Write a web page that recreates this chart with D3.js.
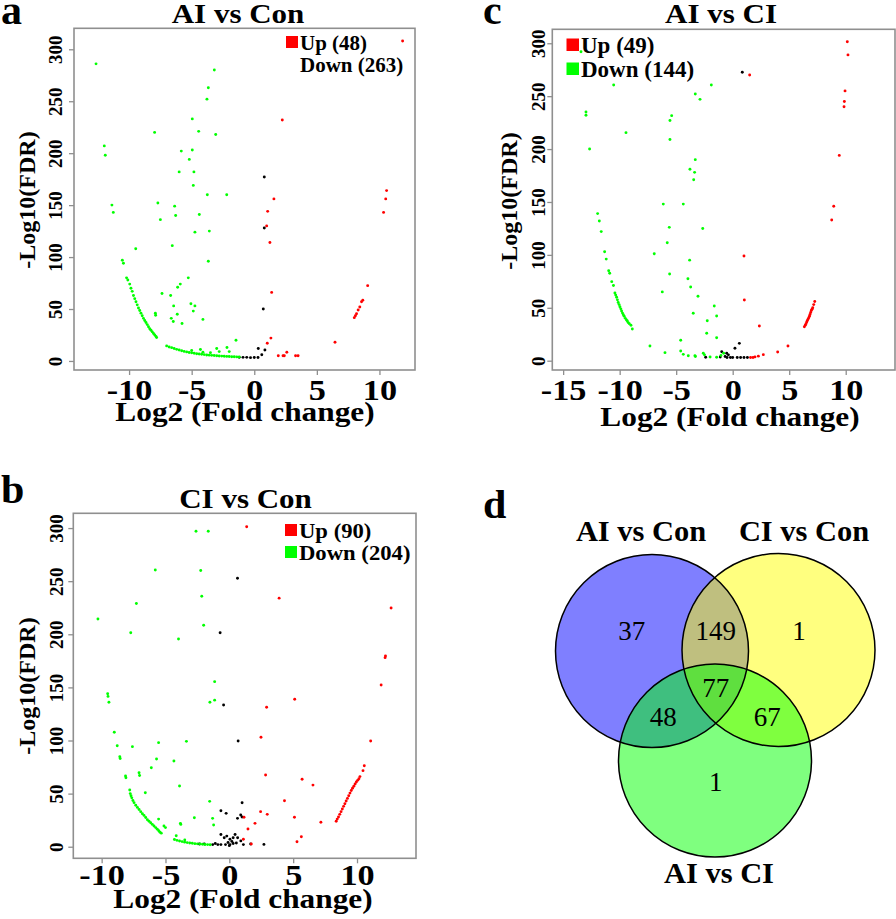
<!DOCTYPE html>
<html><head><meta charset="utf-8">
<script src="https://cdn.jsdelivr.net/npm/d3@7"></script>
<style>html,body{margin:0;padding:0;background:#fff;}svg{display:block;}</style>
</head><body>
<svg id="chart" width="896" height="919"></svg>
<script>
// ---------- data ----------
const panelTitles = ["AI vs Con", "CI vs Con", "AI vs CI"];
const panelLetters = ["a", "b", "c", "d"];
const xTitle = "Log2 (Fold change)";
const yTitle = "-Log10(FDR)";
const yTicks = [0, 50, 100, 150, 200, 250, 300];
const xTicksA = [-10, -5, 0, 5, 10];
const xTicksB = [-10, -5, 0, 5, 10];
const xTicksC = [-15, -10, -5, 0, 5, 10];
const legendA = ["Up (48)", "Down (263)"];
const legendB = ["Up (90)", "Down (204)"];
const legendC = ["Up (49)", "Down (144)"];

const aGreen = [[-12.64,286],[-11.98,207],[-11.9,198],[-11.37,150],[-11.26,143],[-7.96,220],[-7.7,152],[-7.5,136],[-6.36,149],[-6.28,140],[-6.0,182],[-5.83,202],[-5.19,194],[-4.95,233],[-4.95,203],[-4.87,169],[-4.82,182],[-4.44,221],[-4.39,141],[-3.78,252],[-3.75,160],[-3.67,263],[-3.19,280],[-3.08,218],[-2.2,160],
[-4.74,124],[-3.59,125],[-6.55,111],[-9.47,108],[-3.67,96],[-5.27,80],[-5.91,74],[-6.12,71],[-7.37,65],[-6.68,63],[-6.44,53],[-5.06,55],[-4.74,53],[-4.87,48],[-6.15,45],[-7.9,46],[-7.88,44],[-6.63,41],[-6.47,38],[-5.77,36],[-4.1,40],[-1.46,20],[-2.18,13],[-3.0,12],[-4.3,11],[-5.0,10],[-4.1,8.5],[-2.8,9],[-2.0,9],[-3.5,8],
[-10.54,97],[-10.45,94],[-10.2,80],[-10.1,78],[-9.95,74],[-9.85,70],[-9.75,67],[-9.65,63],[-9.55,60],[-9.45,57],[-9.35,54],[-9.25,51],[-9.15,48.5],[-9.05,46],[-8.95,43.5],[-8.85,41],[-8.75,39],[-8.65,37],[-8.55,35],[-8.45,33],[-8.35,31],[-8.25,29.5],[-8.15,28],[-8.05,26.5],[-7.95,25],[-7.85,23.5],[-7.8,22.5],
[-7.0,14.5],[-6.8,13.5],[-6.6,12.8],[-6.4,12],[-6.2,11.2],[-6.0,10.5],[-5.8,9.8],[-5.6,9.2],[-5.4,8.7],[-5.2,8.2],[-5.0,7.8],[-4.8,7.4],[-4.6,7],[-4.4,6.7],[-4.2,6.4],[-4.0,6.1],[-3.8,5.8],[-3.6,5.6],[-3.4,5.4],[-3.2,5.2],[-3.0,5],[-2.8,4.8],[-2.6,4.7],[-2.4,4.5],[-2.2,4.4],[-2.0,4.3],[-1.8,4.1],[-1.6,4],[-1.4,3.9],[-1.2,3.8]];
const aBlack = [[0.8,177],[0.8,128],[0.72,50],[0.32,12],[0.85,10.5],[0.6,6],[-0.9,3.5],[-0.6,3.5],[-0.3,3.2],[0,3.3],[-1.2,3.5],[0.3,3.3]];
const aRed = [[0.99,130],[1.25,114],[1.39,66],[1.33,22],[1.04,17],[1.92,5],[2.3,5],[2.4,5],[2.6,8.4],[3.3,5],[3.5,5],[6.45,18],[9.06,72.5],[7.99,41.7],[8.08,43.5],[8.17,45.5],[8.3,49],[8.43,52],[8.57,57],[8.67,58.5],[1.57,156],[1.07,144],[2.24,232],[10.57,164],[10.5,156],[10.33,143],[11.85,308]];

const bGreen = [[-2.61,297],[-1.65,297],[-5.8,260.5],[-2.24,260],[-7.28,229],[-10.29,214.4],[-7.72,201.5],[-2.16,235.8],[-2.01,208.5],[-3.98,195.6],[-1.15,155.4],[-9.53,144],[-9.5,141.5],[-9.43,136],
[-9.01,107.7],[-8.78,95.1],[-8.58,84.7],[-8.55,83],[-8.13,66.6],[-8.1,65],[-7.59,94.2],[-7.07,69.7],[-7.03,67],[-6.11,74.4],[-5.7,82.6],[-5.54,98],[-6.58,50.8],[-4.34,80.7],[-3.36,99.2],[-3.9,57.2],[-1.52,136],[-1.15,138],[-1.54,42.7],[-2.74,27.3],[-1.31,26.7],[-1.23,20.4],[-5.54,26],[-5.12,19.5],[-5.0,18],[-3.83,22],[-3.8,21],[-4.16,10.4],[-3.49,6.3],
[-7.8,53.4],[-7.76,50],[-7.7,48],[-7.64,46],[-7.55,43.5],[-7.46,41.5],[-7.33,39],[-7.2,37],[-7.07,35],[-6.94,33],[-6.81,31],[-6.68,29.5],[-6.55,27.5],[-6.42,25.5],[-6.29,24],[-6.16,22.5],[-6.03,21],[-5.9,19.5],[-5.77,18],[-5.64,16.5],[-5.53,15],[-5.43,13.7],[-5.33,12.8],
[-4.3,6.8],[-4.1,6],[-3.9,5.4],[-3.7,4.8],[-3.5,4.3],[-3.3,3.9],[-3.1,3.5],[-2.9,3.2],[-2.7,2.9],[-2.5,2.7],[-2.3,2.5],[-2.1,2.3],[-1.9,2.1],[-1.7,2.0],[-1.5,1.9]];
const bBlack = [[0.64,252.7],[-0.72,201.5],[-0.45,133.4],[0.69,99.5],[1.0,41.4],[-0.66,33.9],[-0.25,31.4],[0.64,26.7],[0.89,29.8],[1.0,28],[-0.66,11.5],[-0.4,8.5],[-0.2,10],[0.05,7],[0.3,8.5],[0.45,11.5],[0.65,8.5],[0.9,5.5],[1.1,2],[-0.66,2],[-0.3,2],[0.05,2],[0.3,3],[0.55,3.5],[-0.9,2],[-1.1,3],[-1.3,2],[-2.35,2.5],[-1.96,2.5],[2.71,2.2],[1.67,2.5],[0,1],[-0.1,4],[0.2,5]];
const bRed = [[1.36,301.3],[3.9,234],[12.67,224.8],[12.23,179.6],[12.2,178],[11.89,152.3],[5.12,138.8],[2.92,131.3],[2.48,103],[2.84,67.5],[5.7,63.5],[6.55,58],[4.32,43.3],[2.45,33],[2.97,30.5],[1.15,27.7],[5.1,27.7],[2.01,22],[1.46,16.7],[7.17,23],[5.64,9.4],[5.3,4.7],[1.72,2.5],[1.1,7],[11.07,99.5],[10.57,76.3],[10.47,71.6],
[8.37,24],[8.45,26],[8.55,28],[8.65,30.5],[8.75,33],[8.85,35.5],[8.95,38],[9.05,40.5],[9.15,43],[9.25,45.5],[9.35,48],[9.45,50.5],[9.55,53],[9.65,55],[9.75,57],[9.85,59],[9.95,61],[10.05,62.5],[10.15,64],[10.23,66]];

const cGreen = [[-13.42,292],[-12.98,235],[-12.98,232],[-12.66,200],[-10.53,260.6],[-9.44,215.5],[-11.95,139],[-11.8,132],[-6.14,148],[-5.61,126],[-5.55,227],[-5.4,231.6],[-5.55,209],[-4.37,148],[-3.31,252],[-2.89,247],[-3.31,190],[-3.78,181],[-3.37,178],[-3.45,171],[-2.65,125],[-1.89,260.6],
[-11.63,122],[-11.33,103],[-11.19,96],[-10.97,85],[-10.88,82.6],[-10.7,74.7],[-10.55,71],[-10.42,64],[-10.35,62],[-10.27,60],[-10.2,57.5],[-10.13,55],[-10.05,53],[-9.98,51],[-9.9,49],[-9.83,47],[-9.75,45],[-9.68,43.5],[-9.6,42],[-9.5,40],[-9.4,38.5],[-9.32,37.5],[-9.25,36],[-9.15,35],[-9.0,33.5],[-8.88,30],
[-5.79,111.5],[-6.94,101],[-3.81,95],[-5.58,82],[-3.96,77.5],[-3.72,69.7],[-6.23,65],[-3.07,60.9],[-1.63,51.7],[-1.42,42.2],[-2.25,37.8],[-3.49,44.8],[-2.3,25.9],[-1.42,21.7],[-4.6,19.3],[-7.32,13.9],[-5.99,7.6],[-4.6,9.2],[-4.37,6],[-3.93,4.7],[-3.34,4.7],[-3.3,4],[-2.6,7],[-2.5,5.5],[-2.0,3.5],[-1.42,3.2],[-1.04,5],[-0.8,7]];
const cBlack = [[0.85,272.6],[-0.97,8.5],[-0.53,7],[-0.38,5.5],[-0.2,3],[0.2,11.7],[0.59,16.4],[-0.67,4],[0,3],[0.4,3],[0.7,3],[1.0,3],[1.3,3],[-2.39,3.2],[-1.1,3.5],[-0.5,3]];
const cRed = [[1.5,270],[10.14,301.5],[10.2,289],[9.94,255],[9.88,245],[9.85,240],[9.43,194],[8.94,146],[8.76,133],[1.0,99],[1.03,57.4],[2.36,32.8],[4.89,13.9],[3.98,8.2],[2.71,5.7],[2.27,4.3],[1.97,3.6],[1.8,3],[1.58,3],
[6.34,32],[6.42,33.5],[6.49,35],[6.55,36.5],[6.61,38],[6.67,39.3],[6.73,40.5],[6.79,42],[6.84,43.7],[6.9,45.5],[6.96,47.5],[7.02,48.7],[7.08,50],[7.17,53],[7.26,56]];

const vennSetNames = ["AI vs Con", "CI vs Con", "AI vs CI"];
const vennRegionLabels = ["AI vs Con only", "CI vs Con only", "AI vs CI only", "AI vs Con & CI vs Con", "AI vs Con & AI vs CI", "CI vs Con & AI vs CI", "all three"];
const vennRegionCounts = [37, 1, 1, 149, 48, 67, 77];

// ---------- drawing ----------
const svg = d3.select("#chart");
const SERIF = "'Liberation Serif','Times New Roman',serif";
const GRAY = "#8f8f8f";

function stext(g, x, y, str, size, sx, anchor, weight) {
  return g.append("text")
    .attr("transform", `translate(${x},${y}) scale(${sx},1)`)
    .attr("text-anchor", anchor || "middle")
    .attr("font-family", SERIF)
    .attr("font-weight", weight || "bold")
    .attr("font-size", size)
    .attr("fill", "#000")
    .text(str);
}

function volcano(cfg) {
  const g = svg.append("g");
  const x = d3.scaleLinear().domain(cfg.xd).range(cfg.xr);
  const y = d3.scaleLinear().domain(cfg.yd).range(cfg.yr);

  const series = [[cfg.black, "#000"], [cfg.green, "#00ff00"], [cfg.red, "#ff0000"]];
  series.forEach(([pts, col]) => {
    g.append("g").selectAll("circle").data(pts).join("circle")
      .attr("cx", d => x(d[0])).attr("cy", d => y(d[1]))
      .attr("r", 1.45).attr("fill", col);
  });

  g.append("rect")
    .attr("x", cfg.xr[0]).attr("y", cfg.yr[1])
    .attr("width", cfg.xr[1] - cfg.xr[0]).attr("height", cfg.yr[0] - cfg.yr[1])
    .attr("fill", "none").attr("stroke", GRAY).attr("stroke-width", 1.6);

  const xa = g.append("g").attr("transform", `translate(0,${cfg.yr[0]})`)
    .call(d3.axisBottom(x).tickValues(cfg.xticks).tickSize(5).tickFormat(d3.format("d")));
  xa.select(".domain").remove();
  xa.selectAll(".tick line").attr("stroke", GRAY).attr("stroke-width", 1.3);
  xa.selectAll(".tick text")
    .attr("y", 0).attr("dy", 0)
    .attr("transform", `translate(0,${cfg.xlabOff}) scale(1.2,1)`)
    .attr("font-family", SERIF).attr("font-weight", "bold").attr("font-size", 28.5)
    .attr("fill", "#000").text(d => d < 0 ? "-" + Math.abs(d) : d);

  const ya = g.append("g").attr("transform", `translate(${cfg.xr[0]},0)`)
    .call(d3.axisLeft(y).tickValues(yTicks).tickSize(5));
  ya.select(".domain").remove();
  ya.selectAll(".tick line").attr("stroke", GRAY).attr("stroke-width", 1.3);
  ya.selectAll(".tick text")
    .attr("x", 0).attr("dy", 0).attr("y", cfg.ylabOff)
    .attr("transform", "rotate(-90)")
    .attr("text-anchor", "middle")
    .attr("font-family", SERIF).attr("font-weight", "bold").attr("font-size", 19)
    .attr("fill", "#000");

  stext(g, cfg.title[0], cfg.title[1], cfg.titleText, 26.5, 1.17);
  stext(g, cfg.xt[0], cfg.xt[1], xTitle, 27.5, 1.14);
  g.append("text")
    .attr("transform", `translate(${cfg.yt[0]},${cfg.yt[1]}) rotate(-90)`)
    .attr("text-anchor", "middle")
    .attr("font-family", SERIF).attr("font-weight", "bold").attr("font-size", 24)
    .text(yTitle);
  stext(g, cfg.letter[0], cfg.letter[1], cfg.letterText, 40, 1.05, "start");

  const L = cfg.legend;
  g.append("rect").attr("x", L.x).attr("y", L.y1 - L.sq - 2).attr("width", L.sq).attr("height", L.sq).attr("fill", "#ff0000");
  stext(g, L.x + L.sq + 2, L.y1, cfg.legendText[0], L.fs, L.sx, "start");
  if (L.green) {
    g.append("rect").attr("x", L.x).attr("y", L.y2 - L.sq - 2).attr("width", L.sq).attr("height", L.sq).attr("fill", "#00ff00");
  }
  stext(g, L.x + L.sq + 2, L.y2, cfg.legendText[1], L.fs, L.sx, "start");
}

// panel a
volcano({
  xd: [-14.4, 12.84], xr: [74, 415], yd: [-8.7, 320.2], yr: [370, 28.3],
  xticks: xTicksA, xlabOff: 30, ylabOff: -12,
  black: aBlack, green: aGreen, red: aRed,
  title: [238, 23], titleText: panelTitles[0],
  xt: [245, 421], yt: [35, 200],
  letter: [1, 24], letterText: panelLetters[0],
  legend: { x: 286, y1: 50, y2: 72, sq: 12, fs: 20, sx: 1.05, green: false },
  legendText: legendA
});
// panel b
volcano({
  xd: [-12.22, 14.62], xr: [73.3, 416], yd: [-10.9, 313.9], yr: [858.3, 513.3],
  xticks: xTicksB, xlabOff: 27, ylabOff: -10,
  black: bBlack, green: bGreen, red: bRed,
  title: [245.5, 508], titleText: panelTitles[1],
  xt: [243, 907.5], yt: [35, 686],
  letter: [1, 503], letterText: panelLetters[1],
  legend: { x: 285, y1: 538, y2: 560, sq: 12, fs: 21, sx: 1.08, green: true },
  legendText: legendB
});
// panel c
volcano({
  xd: [-15.96, 14.36], xr: [552.3, 895], yd: [-8.8, 313.2], yr: [370, 29.3],
  xticks: xTicksC, xlabOff: 30, ylabOff: -7,
  black: cBlack, green: cGreen, red: cRed,
  title: [721, 23], titleText: panelTitles[2],
  xt: [730, 426], yt: [517, 201],
  letter: [483, 24], letterText: panelLetters[2],
  legend: { x: 566.5, y1: 53, y2: 77, sq: 12.5, fs: 23, sx: 1.0, green: true },
  legendText: legendC
});

// ---------- Venn (panel d) ----------
const vg = svg.append("g");
const circles = [
  { cx: 652, cy: 651, r: 96.5, col: "#0000ff" },
  { cx: 778.5, cy: 650, r: 96.5, col: "#ffff00" },
  { cx: 715, cy: 760.5, r: 96.5, col: "#00ff00" }
];
vg.selectAll("circle.fill").data(circles).join("circle").attr("class", "fill")
  .attr("cx", d => d.cx).attr("cy", d => d.cy).attr("r", d => d.r)
  .attr("fill", d => d.col).attr("fill-opacity", 0.5);
vg.selectAll("circle.edge").data(circles).join("circle").attr("class", "edge")
  .attr("cx", d => d.cx).attr("cy", d => d.cy).attr("r", d => d.r)
  .attr("fill", "none").attr("stroke", "#000").attr("stroke-width", 1.5);

const setLabelPos = [[641, 541], [804, 541], [719, 883]];
vennSetNames.forEach((s, i) => stext(vg, setLabelPos[i][0], setLabelPos[i][1], s, 29, 1.05));
const regionPos = [[631.7, 640], [799, 640], [715.7, 791], [715.7, 640], [663.3, 726], [767.3, 726], [715.7, 697]];
vennRegionCounts.forEach((c, i) => stext(vg, regionPos[i][0], regionPos[i][1], String(c), 27, 1.0, "middle", "normal"));
stext(vg, 483, 518, panelLetters[3], 40, 1.05, "start");
</script>
</body></html>
